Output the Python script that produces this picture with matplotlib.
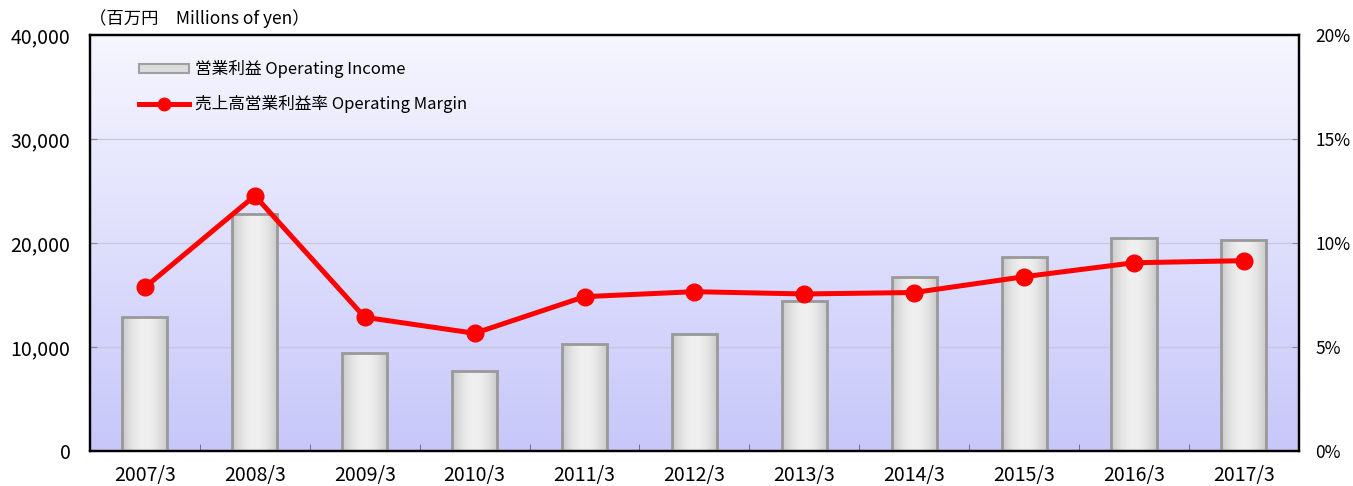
import matplotlib.pyplot as plt
import numpy as np
from matplotlib.patches import Patch
from matplotlib.lines import Line2D
from matplotlib.ticker import FuncFormatter, MultipleLocator

plt.rcParams["font.family"] = ["Noto Sans CJK JP", "DejaVu Sans"]

years = ["2007/3", "2008/3", "2009/3", "2010/3", "2011/3", "2012/3",
         "2013/3", "2014/3", "2015/3", "2016/3", "2017/3"]
operating_income = [12900, 22800, 9400, 7650, 10250, 11250,
                    14450, 16700, 18650, 20500, 20300]
operating_margin = [7.87, 12.27, 6.43, 5.66, 7.42, 7.66,
                    7.55, 7.62, 8.38, 9.05, 9.15]

fig = plt.figure(figsize=(13.53, 4.86), dpi=100)
ax = fig.add_axes([0.0665, 0.072, 0.8935, 0.856])
ax2 = ax.twinx()

x = np.arange(len(years))
ax.set_xlim(-0.5, len(years) - 0.5)
ax.set_ylim(0, 40000)
ax2.set_ylim(0, 20)

# background gradient: pale at top, lavender at bottom
grad = np.linspace(0, 1, 256).reshape(-1, 1)
top_c = np.array([0.965, 0.965, 1.0])
bot_c = np.array([0.78, 0.78, 0.98])
bg = top_c + (bot_c - top_c) * grad[..., None]
ax.imshow(bg, extent=[-0.5, len(years) - 0.5, 0, 40000], aspect="auto",
          zorder=0, interpolation="bicubic")

for yv in [10000, 20000, 30000]:
    ax.axhline(yv, color="#c8c8dc", lw=0.9, zorder=1)

bars = ax.bar(x, operating_income, width=0.41, facecolor="none",
              edgecolor="#999999", linewidth=2.0, zorder=3)

# horizontal gray-white-gray gradient inside each bar
t = np.linspace(-1, 1, 64)
shade = 0.94 - 0.16 * t ** 2
bar_img = np.dstack([shade, shade, shade]).repeat(2, axis=0)
for b in bars:
    im = ax.imshow(bar_img, extent=[b.get_x(), b.get_x() + b.get_width(),
                                    0, b.get_height()],
                   aspect="auto", zorder=2, interpolation="bicubic")
    im.set_clip_path(b)

ax2.plot(x, operating_margin, color="#ff0000", lw=3.6, marker="o",
         markersize=12, zorder=5)

ax.set_xticks(x)
ax.set_xticklabels(years)
ax.set_xticks(np.arange(-0.5, len(years), 1.0), minor=True)
ax.tick_params(axis="x", which="major", length=0, pad=10, labelsize=14)
ax.tick_params(axis="x", which="minor", direction="in", length=5,
               color="#666666")
ax.yaxis.set_major_locator(MultipleLocator(10000))
ax.yaxis.set_major_formatter(FuncFormatter(lambda v, p: f"{int(v):,}"))
ax.tick_params(axis="y", direction="in", length=5, color="#888888",
               pad=14, labelsize=14)
ax2.yaxis.set_major_locator(MultipleLocator(5))
ax2.yaxis.set_major_formatter(FuncFormatter(lambda v, p: f"{int(v)}%"))
ax2.tick_params(axis="y", direction="in", length=5, color="#888888",
                pad=12, labelsize=12.5)

for a in (ax, ax2):
    for s in a.spines.values():
        s.set_linewidth(1.6)
        s.set_color("black")
ax2.patch.set_visible(False)

fig.text(0.066, 0.962, "（百万円　Millions of yen）", fontsize=12.5,
         ha="left", va="center")

handles = [
    Patch(facecolor="#dcdcdc", edgecolor="#a0a0a0", linewidth=1.5),
    Line2D([], [], color="#ff0000", lw=3.6, marker="o", markersize=9),
]
labels = ["営業利益 Operating Income", "売上高営業利益率 Operating Margin"]
leg = ax2.legend(handles, labels, loc="upper left",
                 bbox_to_anchor=(0.028, 0.975), frameon=False,
                 fontsize=12, handlelength=3.0, handleheight=0.5,
                 handletextpad=0.4, labelspacing=1.0)

fig.savefig("out.png", dpi=100)
